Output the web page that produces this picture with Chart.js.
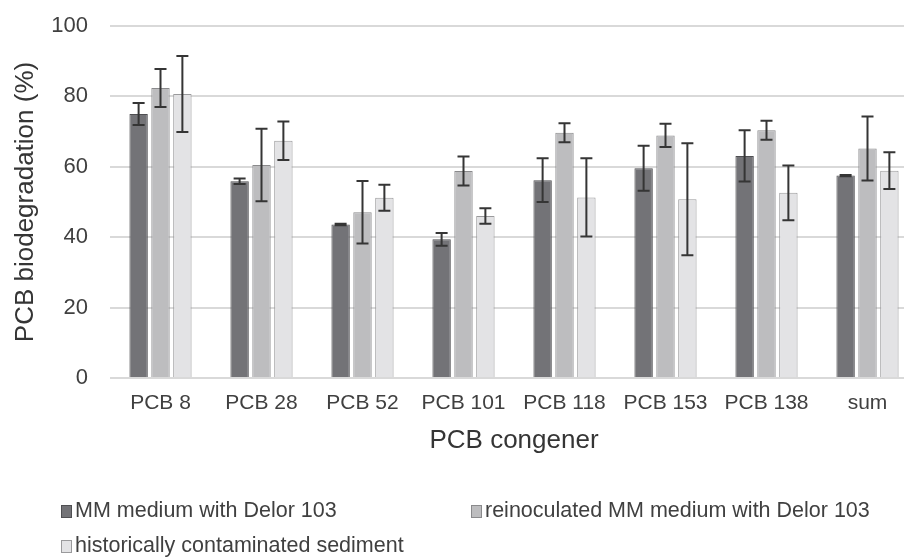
<!DOCTYPE html>
<html>
<head>
<meta charset="utf-8">
<script src="https://cdn.jsdelivr.net/npm/chart.js@4"></script>
<style>
  html, body { margin: 0; padding: 0; background: #fff; }
  body { width: 904px; height: 560px; overflow: hidden; position: relative; font-family: "Liberation Sans", Arial, sans-serif; }
  #wrap { position: absolute; left: 0; top: 0; width: 918px; height: 470px; }
  #legend { position: absolute; left: 0; top: 0; width: 904px; height: 560px; pointer-events: none; }
  .item { position: absolute; font-size: 21.5px; color: #404040; line-height: 26px; white-space: nowrap; }
  .box { display: inline-block; width: 9px; height: 11px; border: 1px solid #666; margin-right: 3px; vertical-align: -1px; }
</style>
</head>
<body>
<div id="wrap"><canvas id="myChart" width="918" height="470"></canvas></div>
<div id="legend"></div>
<script>
// data
const categories = ['PCB 8', 'PCB 28', 'PCB 52', 'PCB 101', 'PCB 118', 'PCB 153', 'PCB 138', 'sum'];
const seriesNames = ['MM medium with Delor 103', 'reinoculated MM medium with Delor 103', 'historically contaminated sediment'];
const mmMedium = [75.0, 55.9, 43.6, 39.4, 56.2, 59.6, 63.1, 57.5];
const mmErr = [3.1, 0.8, 0.2, 1.8, 6.2, 6.4, 7.3, 0.2];
const reinoculated = [82.4, 60.5, 47.1, 58.8, 69.7, 68.9, 70.4, 65.2];
const reinErr = [5.4, 10.3, 8.9, 4.1, 2.7, 3.3, 2.7, 9.1];
const sediment = [80.7, 67.4, 51.2, 46.0, 51.3, 50.8, 52.6, 58.9];
const sedErr = [10.8, 5.5, 3.7, 2.2, 11.1, 15.9, 7.8, 5.2];
const yTicks = [0, 20, 40, 60, 80, 100];

const fills = ['#737377', '#bdbdbf', '#e3e3e5'];
const borders = ['#4f4f52', '#8a8a8c', '#9a9a9c'];
const textColor = '#404040';

// error bars drawn on top of each bar
const errorBars = {
  id: 'errorBars',
  afterDatasetsDraw(chart) {
    const {ctx, scales} = chart;
    const y = scales.y;
    ctx.save();
    ctx.strokeStyle = '#353535';
    ctx.lineWidth = 2;
    chart.data.datasets.forEach((ds, di) => {
      const meta = chart.getDatasetMeta(di);
      meta.data.forEach((bar, i) => {
        const v = ds.data[i];
        const e = ds.errors[i];
        const top = y.getPixelForValue(v + e);
        const bot = y.getPixelForValue(v - e);
        ctx.beginPath();
        ctx.moveTo(bar.x, top);
        ctx.lineTo(bar.x, bot);
        ctx.moveTo(bar.x - 6, top);
        ctx.lineTo(bar.x + 6, top);
        ctx.moveTo(bar.x - 6, bot);
        ctx.lineTo(bar.x + 6, bot);
        ctx.stroke();
      });
    });
    ctx.restore();
  }
};

const values = [mmMedium, reinoculated, sediment];
const errs = [mmErr, reinErr, sedErr];

const data = {
  labels: categories,
  datasets: seriesNames.map((name, i) => ({
    label: name,
    data: values[i],
    errors: errs[i],
    backgroundColor: fills[i],
    borderColor: borders[i],
    borderWidth: 1,
    categoryPercentage: 0.65,
    barPercentage: 0.84
  }))
};

const config = {
  type: 'bar',
  data,
  options: {
    responsive: false,
    animation: false,
    layout: { padding: { top: 26, left: 0, right: 0, bottom: 0 } },
    plugins: {
      legend: { display: false },
      tooltip: { enabled: false }
    },
    scales: {
      x: {
        grid: { display: false, drawTicks: false },
        border: { display: false },
        ticks: {
          color: textColor,
          padding: 13,
          maxRotation: 0,
          font: { family: 'Liberation Sans', size: 21 }
        },
        title: {
          display: true,
          text: 'PCB congener',
          color: '#353535',
          font: { family: 'Liberation Sans', size: 26 },
          padding: { top: 0, bottom: 14 }
        },
        afterFit(scale) { scale.height = 92; }
      },
      y: {
        min: 0,
        max: 100,
        afterBuildTicks(scale) { scale.ticks = yTicks.map(v => ({value: v})); },
        grid: { color: '#d9d9d9', lineWidth: 2, drawTicks: false },
        border: { display: false },
        ticks: {
          color: textColor,
          padding: 22,
          font: { family: 'Liberation Sans', size: 22 }
        },
        title: {
          display: true,
          text: 'PCB biodegradation (%)',
          color: '#353535',
          font: { family: 'Liberation Sans', size: 26 },
          padding: { top: 10, bottom: 0 }
        },
        // fixed width; the big label padding should not push the plot down
        afterFit(scale) {
          scale.width = 110;
          scale.paddingTop = 0;
          scale.paddingBottom = 0;
        }
      }
    }
  },
  plugins: [errorBars]
};

const ctx = document.getElementById('myChart').getContext('2d');
// eslint-disable-next-line no-undef
new Chart(ctx, config);

// legend laid out like the original (two columns, wrapping)
const legendPos = [[61, 497], [471, 497], [61, 532]];
const legend = document.getElementById('legend');
seriesNames.forEach((name, i) => {
  const el = document.createElement('div');
  el.className = 'item';
  el.style.left = legendPos[i][0] + 'px';
  el.style.top = legendPos[i][1] + 'px';
  const box = document.createElement('span');
  box.className = 'box';
  box.style.background = fills[i];
  box.style.borderColor = borders[i];
  el.appendChild(box);
  el.appendChild(document.createTextNode(name));
  legend.appendChild(el);
});
</script>
</body>
</html>
